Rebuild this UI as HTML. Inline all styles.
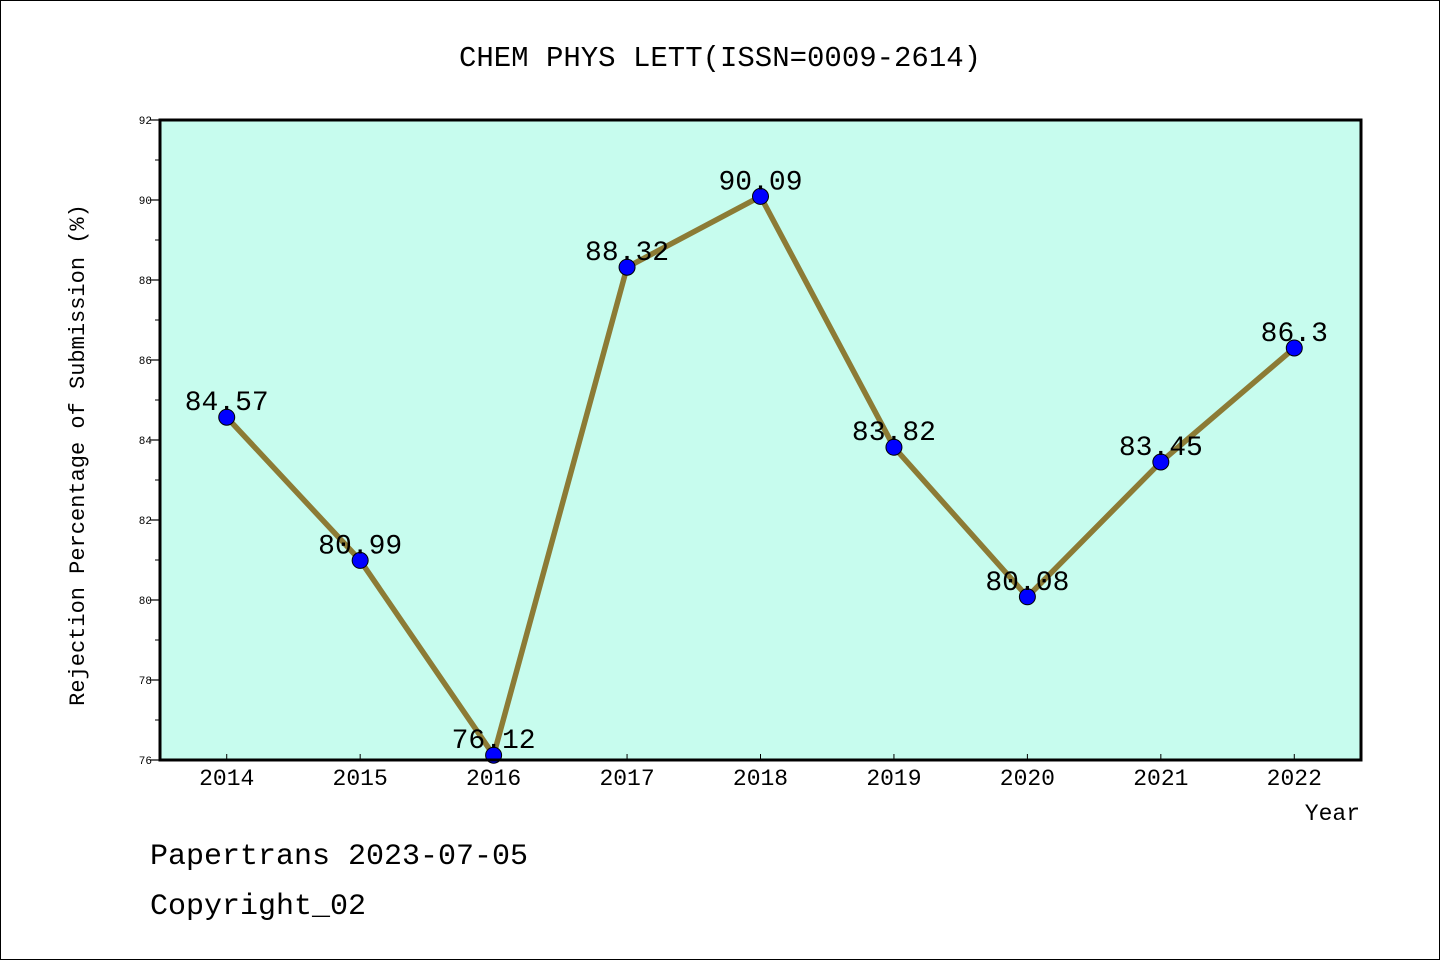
<!DOCTYPE html>
<html><head><meta charset="utf-8"><style>
body{margin:0;background:#fff}
svg{display:block;font-family:"Liberation Mono","WenQuanYi Zen Hei",monospace}
</style></head><body>
<svg id="c" width="1440" height="960" viewBox="0 0 1440 960">
<rect x="0.5" y="0.5" width="1439" height="959" fill="#fff" stroke="#000"/>
<text x="720" y="66" font-size="29" text-anchor="middle">CHEM PHYS LETT(ISSN=0009-2614)</text>
<rect x="160" y="120" width="1201" height="640" fill="#c7fcee"/>
<g id="yt"></g><g id="xt"></g><g id="series"></g>
<rect x="160" y="120" width="1201" height="640" fill="none" stroke="#000" stroke-width="3"/>
<text transform="translate(84,455) rotate(-90)" font-size="22" text-anchor="middle">Rejection Percentage of Submission (%)</text>
<text x="1360" y="820" font-size="23" text-anchor="end">Year</text>
<text x="150" y="864" font-size="30">Papertrans 2023-07-05</text>
<text x="150" y="914" font-size="30">Copyright_02</text>
</svg>
<script>
const years=[2014,2015,2016,2017,2018,2019,2020,2021,2022];
const values=[84.57,80.99,76.12,88.32,90.09,83.82,80.08,83.45,86.3];
const valueLabels=["84.57","80.99","76.12","88.32","90.09","83.82","80.08","83.45","86.3"];
const yTicks=[76,78,80,82,84,86,88,90,92];
const NS="http://www.w3.org/2000/svg";
const X0=160,X1=1361,Y0=760,Y1=120;
const xs=v=>X0+(v-2013.5)/(9)*(X1-X0);
const ys=v=>Y0-(v-76)/16*(Y0-Y1);
function mk(t,a,p){const e=document.createElementNS(NS,t);for(const k in a)e.setAttribute(k,a[k]);p.appendChild(e);return e;}
const yt=document.getElementById('yt');
yTicks.forEach(v=>{
 const l=mk('line',{x1:X0-10,x2:X0,y1:ys(v),y2:ys(v),stroke:'#000','stroke-width':1.2},yt);
 
 
 const t=mk('text',{x:X0-8,y:ys(v)+4,'font-size':11,'text-anchor':'end'},yt);
 t.textContent=v;
 
 
 if(v<92){const m=mk('line',{x1:X0-5,x2:X0,y1:ys(v+1),y2:ys(v+1),stroke:'#000','stroke-width':1},yt);
 
 }
});
const xt=document.getElementById('xt');
years.forEach(y=>{
 const l=mk('line',{x1:xs(y),x2:xs(y),y1:Y0-6,y2:Y0,stroke:'#000','stroke-width':1},xt);
 
 
 const t=mk('text',{x:xs(y),y:785,'font-size':23,'text-anchor':'middle'},xt);
 t.textContent=y;
 
 
});
const g=document.getElementById('series');
const pl=mk('polyline',{points:years.map((y,i)=>xs(y)+','+ys(values[i])).join(' '),fill:'none',stroke:'#8c7b35','stroke-width':5.5,'stroke-linejoin':'round'},g);


years.forEach((y,i)=>{
 const c=mk('circle',{cx:xs(y),cy:ys(values[i]),r:8,fill:'#0000ff',stroke:'#000','stroke-width':1},g);
 
 
 const t=mk('text',{x:xs(y),y:ys(values[i])-7,'font-size':28,'text-anchor':'middle'},g);
 t.textContent=valueLabels[i];
 
 
});
</script>
</body></html>
